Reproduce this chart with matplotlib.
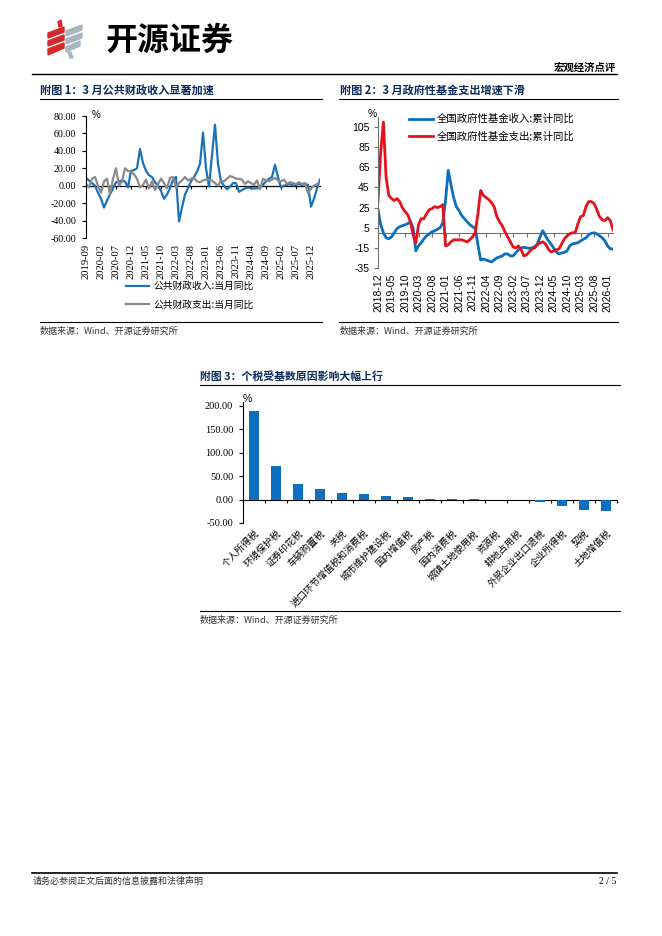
import numpy as np
import pandas as pd
import matplotlib
matplotlib.use('Agg')
import matplotlib.pyplot as plt
from matplotlib.lines import Line2D
from matplotlib.patches import Polygon

W, H = 662, 936
CJK = ['Noto Sans CJK SC', 'DejaVu Sans']
SERIF = ['Liberation Serif', 'Noto Sans CJK SC']
SANS = ['Liberation Sans', 'Noto Sans CJK SC']
NAVY = '#0B2A5B'

# ---- chart 1: public budget, monthly yoy (%), 2019-09 .. 2026-03
months1 = pd.period_range('2019-09', periods=79, freq='M').strftime('%Y-%m')
rev_m = [9, 6, 3, 0, -8, -15, -25, -17, -10, -3,
         4, 5, 6, 5, -2, 17, 18, 20, 42, 26,
         17, 12, 10, 4, 0, -6, -15, -10, -3, 7,
         10, -41, -25, -10, -3, 5, 10, 16, 25, 61,
         20, -1, 35, 70, 25, 5, 0, -4, -1, 3,
         3, -7, -5, -3, -2, -3, -3, -3, -2, 1,
         5, 8, 10, 24, 10, -2, 0, 1, 2, 0,
         1, 2, 1, 2, 1, -24, -15, -3, 7]
exp_m = [2, -2, 8, 10, 0, -8, 5, 8, -10, 8,
         20, 0, 5, 20, 17, 16, 13, 8, -2, 1,
         7, -3, 5, -5, 2, 8, 3, -3, 9, 10,
         -2, 3, 6, 10, 6, 8, 9, 5, 4, 6,
         7, 7, 6, 3, 0, 6, 5, 8, 11, 10,
         8, 8, 7, 2, 5, 3, 1, 6, -4, 8,
         6, 5, 7, 9, 6, 5, 7, 2, 4, 3,
         2, 4, 2, 3, -9, -3, 0, 2, 3]

# ---- chart 2: government fund budget, cumulative yoy (%), 2018-12 .. 2026-03
months2 = pd.period_range('2018-12', periods=88, freq='M').strftime('%Y-%m')
fund_rev = [23, 8, 0, -5, -6, -4, 0, 4, 6, 7,
            8, 9, 11, 5, -18, -13, -10, -6, -3, -1,
            1, 2, 3.5, 5, 10, 32, 62, 48, 35, 26,
            22, 17, 14, 11, 8, 6, 4.5, -12, -27, -26,
            -27, -28, -29, -27, -25, -24, -23, -21, -21, -23,
            -23, -20, -17, -15, -14.5, -15, -15.5, -15, -14, -11,
            -4, 2, -3, -7.6, -11, -15, -19, -21, -20, -19.5,
            -18, -13, -11, -10.5, -10, -8, -6.5, -5, -2, -0.5,
            0, -1, -3, -5, -8, -13, -16, -16]
fund_exp = [32, 80, 110, 55, 37, 34, 32, 34, 31, 25,
            21, 18, 11, -2, -10, 8, 14, 14, 19, 23,
            24, 26, 25, 26, 28, -13, -12, -9, -7, -7,
            -7, -7, -8, -9, -7, -4, 0, 19, 42, 37,
            35, 33, 30, 26, 16, 11, 7, 1, -4, -9,
            -14, -15, -13, -17, -23, -22, -19, -16, -15, -12,
            -10, -9, -11, -16, -19, -18, -17, -16, -11, -6,
            -3, -1, 0, 0, 9, 16, 17, 26, 31, 31,
            29, 23, 16, 13, 12, 15, 12, 3]

# ---- chart 3: tax items yoy (%)
taxes = ['个人所得税', '环境保护税', '证券印花税', '车辆购置税', '关税',
         '进口环节增值税和消费税', '城市维护建设税', '国内增值税', '房产税',
         '国内消费税', '城镇土地使用税', '资源税', '耕地占用税',
         '外贸企业出口退税', '企业所得税', '契税', '土地增值税']
tax_yoy = [188, 71, 34, 23, 13, 12.5, 7, 5, 1.5, 1.2, 1, 0, -0.5,
           -5.5, -14, -23, -25]


fig = plt.figure(figsize=(6.62, 9.36), dpi=100)


def fx(x):
    return x / W


def fy(y):
    return 1 - y / H


def text(x, y, s, size, ha='left', va='center', weight='normal', color='black', family=CJK):
    fig.text(fx(x), fy(y), s, fontsize=size, ha=ha, va=va, fontweight=weight,
             color=color, family=family)


def hline(x0, x1, y, lw=0.8):
    fig.add_artist(Line2D([fx(x0), fx(x1)], [fy(y), fy(y)], color='black', lw=lw,
                          transform=fig.transFigure))


def axes_px(left, top, right, bottom):
    return fig.add_axes([fx(left), fy(bottom), (right - left) / W, (bottom - top) / H])


# ---- page header: logo + title line
red_parts = [[(58, 22), (61, 20), (62, 26), (59, 27)],
             [(48, 33), (64, 27), (64, 32), (48, 38)],
             [(48, 41), (64, 35), (64, 40), (48, 46)],
             [(48, 49), (64, 43), (64, 48), (48, 55)]]
gray_parts = [[(66, 31), (82, 25), (82, 30), (66, 36)],
              [(66, 39), (82, 33), (82, 38), (66, 44)],
              [(66, 47), (80, 41), (80, 46), (66, 52)],
              [(68, 52), (71, 52), (73, 58), (70, 58)]]
for pts in red_parts:
    fig.add_artist(Polygon([(fx(a), fy(b)) for a, b in pts], closed=True,
                           color='#D9262B', transform=fig.transFigure))
for pts in gray_parts:
    fig.add_artist(Polygon([(fx(a), fy(b)) for a, b in pts], closed=True,
                           color='#A9B5BF', transform=fig.transFigure))
text(106, 41, '开源证券', 23, weight='bold')
text(616, 68, '宏观经济点评', 7.5, ha='right', weight='bold')
hline(32, 617, 74, lw=1.0)

# ---- section titles
text(40, 90, '附图 1：3 月公共财政收入显著加速', 8, weight='bold', color=NAVY)
hline(40, 322, 99, lw=0.8)
text(340, 90, '附图 2：3 月政府性基金支出增速下滑', 8, weight='bold', color=NAVY)
hline(339, 618, 99, lw=0.8)

# ---- chart 1
ax1 = axes_px(86, 116, 320, 238)
x1 = np.arange(len(rev_m))
ax1.plot(x1, rev_m, color='#1A72BB', lw=1.6, label='公共财政收入:当月同比')
ax1.plot(x1, exp_m, color='#8A8A8A', lw=1.6, label='公共财政支出:当月同比')
ax1.set_xlim(0, len(rev_m) - 1)
ax1.set_ylim(-60, 80)
ax1.set_yticks(range(-60, 81, 20))
ax1.set_yticklabels([f'{v:.2f}' for v in range(-60, 81, 20)], family=SERIF, fontsize=7.2)
xt1 = list(range(0, len(months1), 5))
ax1.set_xticks(xt1)
ax1.set_xticklabels([months1[i] for i in xt1], rotation=90, family=SERIF, fontsize=7.6)
ax1.tick_params(axis='x', length=0, pad=4)
ax1.tick_params(axis='y', length=3, width=0.8, pad=4)
for s in ['top', 'right', 'bottom']:
    ax1.spines[s].set_visible(False)
ax1.spines['left'].set_linewidth(0.8)
zero1 = ax1.secondary_xaxis(60 / 140)
zero1.set_xticks(xt1)
zero1.tick_params(length=2, width=0.8, labelbottom=False, labeltop=False)
zero1.spines['bottom'].set_linewidth(0.9)
zero1.spines['top'].set_linewidth(0.9)
text(92, 115, '%', 7, family=SANS)
ax1.legend(loc='upper left', bbox_to_anchor=(fx(126), fy(281)), bbox_transform=fig.transFigure,
           frameon=False, borderpad=0, borderaxespad=0, handlelength=2.4, handletextpad=0.4,
           labelspacing=0.9, prop={'family': CJK, 'size': 7})

# ---- chart 2
ax2 = axes_px(378, 117, 613, 268)
x2 = np.arange(len(fund_rev))
ax2.plot(x2, fund_rev, color='#0A6EBD', lw=2.0, label='全国政府性基金收入:累计同比')
ax2.plot(x2, fund_exp, color='#E8101A', lw=2.0, label='全国政府性基金支出:累计同比')
ax2.set_xlim(0, len(fund_rev) - 1)
ax2.set_ylim(-35, 115)
ax2.set_yticks(range(-35, 106, 20))
ax2.set_yticklabels([str(v) for v in range(-35, 106, 20)], family=SANS, fontsize=7.5)
xt2 = list(range(0, len(months2), 5))
ax2.set_xticks(xt2)
ax2.set_xticklabels([months2[i] for i in xt2], rotation=90, family=SANS, fontsize=7.5)
ax2.tick_params(axis='x', length=0, pad=4)
ax2.tick_params(axis='y', length=3, width=0.8, pad=3, color='#707070')
for s in ['top', 'right', 'bottom']:
    ax2.spines[s].set_visible(False)
ax2.spines['left'].set_color('#707070')
ax2.spines['left'].set_linewidth(0.8)
zero2 = ax2.secondary_xaxis(35 / 150)
zero2.set_xticks(xt2)
zero2.tick_params(length=3, width=0.8, color='#707070', labelbottom=False, labeltop=False)
zero2.spines['bottom'].set_color('#707070')
zero2.spines['top'].set_color('#707070')
text(368, 114, '%', 7.5, family=SANS)
ax2.legend(loc='upper left', bbox_to_anchor=(fx(409), fy(114)), bbox_transform=fig.transFigure,
           frameon=False, borderpad=0, borderaxespad=0, handlelength=2.3, handletextpad=0.4,
           labelspacing=0.7, prop={'family': CJK, 'size': 7.5})

# ---- sources under charts 1 and 2
hline(40, 322, 322, lw=0.8)
text(40, 331, '数据来源：Wind、开源证券研究所', 6.5, color='#333333')
hline(339, 618, 322, lw=0.8)
text(340, 331, '数据来源：Wind、开源证券研究所', 6.5, color='#333333')

# ---- chart 3
text(200, 376, '附图 3：个税受基数原因影响大幅上行', 7.8, weight='bold', color=NAVY)
hline(200, 620, 385, lw=0.8)
ax3 = axes_px(243, 402, 617, 523)
x3 = np.arange(len(taxes))
ax3.bar(x3, tax_yoy, width=0.42, color='#0E6EC0')
ax3.set_xlim(-0.5, len(taxes) - 0.5)
ax3.set_ylim(-50, 208)
ax3.set_yticks(range(-50, 201, 50))
ax3.set_yticklabels([f'{v:.2f}' for v in range(-50, 201, 50)], family=SERIF, fontsize=7.5)
ax3.set_xticks(x3)
ax3.set_xticklabels(taxes, rotation=45, ha='right', rotation_mode='anchor',
                    family=CJK, fontsize=6.8)
ax3.tick_params(axis='x', length=0, pad=4)
ax3.tick_params(axis='y', length=3, width=0.8, pad=4)
for s in ['top', 'right', 'bottom']:
    ax3.spines[s].set_visible(False)
ax3.spines['left'].set_linewidth(0.8)
zero3 = ax3.secondary_xaxis(50 / 258)
zero3.set_xticks(np.arange(-0.5, len(taxes), 1))
zero3.tick_params(length=2, width=0.8, labelbottom=False, labeltop=False)
text(243, 399, '%', 7.5, family=SANS)
hline(200, 620, 611, lw=0.8)
text(200, 620, '数据来源：Wind、开源证券研究所', 6.5, color='#333333')

# ---- footer
hline(32, 617, 873, lw=1.2)
text(33, 881, '请务必参阅正文后面的信息披露和法律声明', 6.5, color='#333333')
text(616, 881, '2 / 5', 7, ha='right', family=SERIF)

fig.savefig('out.png', dpi=100)
